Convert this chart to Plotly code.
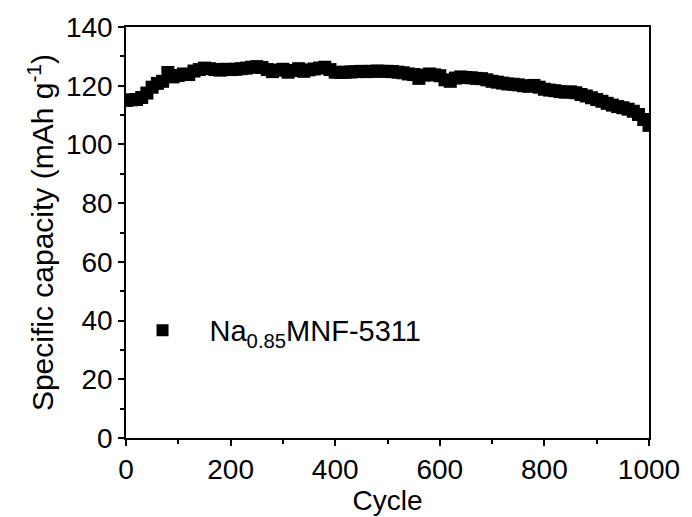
import plotly.graph_objects as go

cycles = [1] + list(range(10, 1001, 10))
capacity = [
    115.0, 115.2, 115.3, 116.0, 117.5, 119.5, 120.8, 121.5, 124.5, 123.0,
    123.5, 124.0, 123.8, 125.0, 125.5, 126.0, 125.8, 125.5, 125.3, 125.6,
    125.5, 125.6, 125.8, 126.0, 126.3, 126.5, 126.2, 125.5, 124.8, 125.3,
    125.6, 124.6, 125.2, 125.8, 124.9, 125.4, 125.7, 126.0, 126.3, 125.5,
    124.6, 124.5, 124.6, 124.7, 124.8, 124.9, 124.8, 124.9, 125.0, 124.9,
    124.9, 124.8, 124.6, 124.4, 124.0, 123.8, 122.5, 123.6, 124.0, 123.7,
    123.4, 122.0, 121.5, 122.6, 123.0, 122.8, 122.7, 122.5, 122.4, 122.0,
    121.5, 121.2, 120.9, 120.6, 120.5, 120.3, 120.0, 119.8, 120.1, 119.5,
    118.8, 118.5, 118.3, 118.0, 117.8, 117.9, 117.6, 117.0, 116.5, 115.9,
    115.3, 114.7, 114.0, 113.4, 112.9, 112.5, 112.0, 111.3, 110.2, 108.5,
    106.5,
]
series_name = "Na<sub>0.85</sub>MNF-5311"

FONT = "Arial, Liberation Sans, sans-serif"

fig = go.Figure()
fig.add_trace(go.Scatter(
    x=cycles, y=capacity, mode="markers", name=series_name,
    marker=dict(symbol="square", size=13, color="black", line=dict(width=0)),
    showlegend=True,
))

axis_common = dict(
    showline=True, linecolor="black", linewidth=1.5, mirror=True,
    ticks="outside", ticklen=6, tickwidth=1.5, tickcolor="black",
    showgrid=False, zeroline=False,
    tickfont=dict(family=FONT, size=28, color="black"),
)

fig.update_layout(
    width=692, height=517,
    margin=dict(l=126, r=38, t=19, b=77),
    paper_bgcolor="white", plot_bgcolor="white",
    font=dict(family=FONT, color="black"),
    xaxis=dict(
        range=[0, 1000], tick0=0, dtick=200,
        minor=dict(ticks="outside", ticklen=4, tickwidth=1.5, tickcolor="black", dtick=100, showgrid=False),
        title=dict(text="Cycle", font=dict(family=FONT, size=28, color="black"), standoff=0),
        **axis_common,
    ),
    yaxis=dict(
        range=[0, 140], tick0=0, dtick=20,
        minor=dict(ticks="outside", ticklen=4, tickwidth=1.5, tickcolor="black", dtick=10, showgrid=False),
        title=dict(text="Specific capacity (mAh g<sup>-1</sup>)", font=dict(family=FONT, size=30, color="black"), standoff=3),
        **axis_common,
    ),
    showlegend=True,
    legend=dict(
        x=-0.02, y=0.262, xanchor="left", yanchor="middle",
        bgcolor="rgba(0,0,0,0)", borderwidth=0,
        font=dict(family=FONT, size=29, color="black"),
        itemsizing="constant", itemwidth=84,
    ),
)

fig.write_html("out.html")
